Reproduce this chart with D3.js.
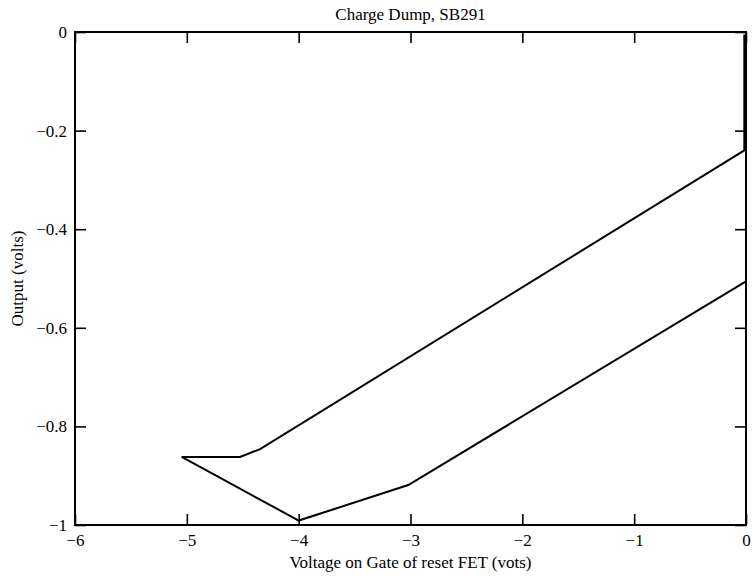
<!DOCTYPE html>
<html>
<head>
<meta charset="utf-8">
<script src="https://cdn.jsdelivr.net/npm/d3@7"></script>
<style>
  html, body { margin: 0; padding: 0; background: #fff; }
  svg { display: block; }
  text { font-family: "Liberation Serif", "Times New Roman", serif; fill: #000; }
</style>
</head>
<body>
<svg id="chart" width="752" height="577"></svg>
<script>
// ---- data ----
const titleText = "Charge Dump, SB291";
const xLabelText = "Voltage on Gate of reset FET (vots)";
const yLabelText = "Output (volts)";
const xDomain = [-6, 0];
const yDomain = [-1, 0];
const xTicks = [-6, -5, -4, -3, -2, -1, 0];
const yTicks = [-1, -0.8, -0.6, -0.4, -0.2, 0];
// sweep trace (gate voltage, output)
const gateV = [-0.015, -0.015, -4.345, -4.524, -5.046, -4.0, -3.02, 0];
const outputV = [-0.005, -0.240, -0.846, -0.862, -0.862, -0.991, -0.919, -0.506];

// ---- layout ----
const svg = d3.select("#chart");
const L = 75, R = 746, T = 32, B = 525;
const x = d3.scaleLinear().domain(xDomain).range([L, R]);
const y = d3.scaleLinear().domain(yDomain).range([B, T]);
const fmt = d => d3.format("")(d);
const tick = 11;

// axes
const gx = svg.append("g").attr("transform", `translate(0,${B})`)
  .call(d3.axisBottom(x).tickValues(xTicks).tickFormat(fmt).tickSize(-tick).tickPadding(9));
const gxTop = svg.append("g").attr("transform", `translate(0,${T})`)
  .call(d3.axisTop(x).tickValues(xTicks).tickFormat("").tickSize(-tick));
const gy = svg.append("g").attr("transform", `translate(${L},0)`)
  .call(d3.axisLeft(y).tickValues(yTicks).tickFormat(fmt).tickSize(-tick).tickPadding(8));
const gyR = svg.append("g").attr("transform", `translate(${R},0)`)
  .call(d3.axisRight(y).tickValues(yTicks).tickFormat("").tickSize(-tick));

[gx, gxTop, gy, gyR].forEach(g => {
  g.select(".domain").remove();
  g.selectAll(".tick line").attr("stroke", "#000").attr("stroke-width", 1.6);
  g.selectAll(".tick text").attr("font-size", 17).attr("font-family", "Liberation Serif, serif");
});

// frame
svg.append("rect").attr("x", L).attr("y", T).attr("width", R - L).attr("height", B - T)
  .attr("fill", "none").attr("stroke", "#000").attr("stroke-width", 2);

// data line
const pts = gateV.map((v, i) => [v, outputV[i]]);
svg.append("path").datum(pts)
  .attr("fill", "none").attr("stroke", "#000").attr("stroke-width", 2).attr("stroke-linejoin", "miter")
  .attr("d", d3.line().x(d => x(d[0])).y(d => y(d[1])));

// labels
svg.append("text").attr("x", (L + R) / 2).attr("y", 20).attr("text-anchor", "middle")
  .attr("font-size", 17).text(titleText);
svg.append("text").attr("x", (L + R) / 2).attr("y", 568).attr("text-anchor", "middle")
  .attr("font-size", 17).text(xLabelText);
svg.append("text").attr("transform", `translate(23,${(T + B) / 2}) rotate(-90)`)
  .attr("text-anchor", "middle").attr("font-size", 17).text(yLabelText);
</script>
</body>
</html>
